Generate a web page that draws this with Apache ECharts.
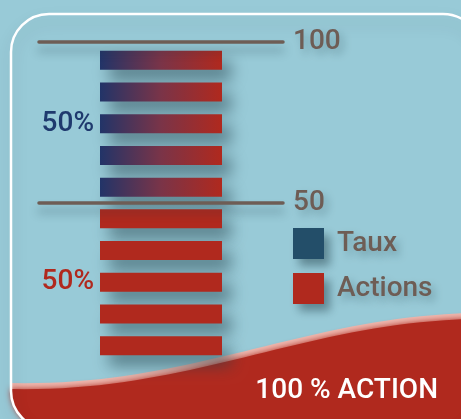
<!DOCTYPE html>
<html>
<head>
<meta charset="utf-8">
<script src="https://cdn.jsdelivr.net/npm/echarts@6/dist/echarts.min.js"></script>
<style>
  html, body { margin: 0; padding: 0; background: #98cad7; }
  #chart { width: 461px; height: 419px; }
</style>
</head>
<body>
<div id="chart"></div>
<script>
// data
const rows = ['90-100', '80-90', '70-80', '60-70', '50-60', '40-50', '30-40', '20-30', '10-20', '0-10'];
const tauxValues = [10, 10, 10, 10, 10, '-', '-', '-', '-', '-'];
const actionsValues = ['-', '-', '-', '-', '-', 10, 10, 10, 10, 10];
const refLevels = [100, 50];
const tauxShare = '50%';
const actionsShare = '50%';
const footerText = '100 % ACTION';

const FONT = 'Roboto';
const WEIGHT = 500;
const RED = '#b0291e';
const NAVY = '#223468';
const GREY = '#6e5d55';
const barShadow = {
  shadowBlur: 16,
  shadowColor: 'rgba(35,65,75,0.55)',
  shadowOffsetX: 9,
  shadowOffsetY: 11
};

// label on the middle bar of each block
function withLabel(values, idx, text, color) {
  return values.map((v, i) => {
    if (i !== idx) return v;
    return {
      value: v,
      label: {
        show: true, position: 'left', distance: 6,
        formatter: text, color: color,
        fontSize: 28, fontFamily: FONT, fontWeight: WEIGHT
      }
    };
  });
}

// decoration: bottom wave
function bez(a, b, c, d, t) {
  const u = 1 - t;
  return u * u * u * a + 3 * u * u * t * b + 3 * u * t * t * c + t * t * t * d;
}
function wavePoints(dy) {
  const pts = [];
  for (let i = 0; i <= 40; i++) {
    const t = i / 40;
    pts.push([bez(11, 190, 300, 470, t), bez(383, 387, 318, 313, t) + dy]);
  }
  pts.push([470, 429]);
  const cx = 49, cy = 391, r = 38;
  for (let i = 0; i <= 12; i++) {
    const a = Math.PI / 2 + (Math.PI / 2) * i / 12;
    pts.push([cx + r * Math.cos(a), cy + r * Math.sin(a)]);
  }
  return pts;
}

const chart = echarts.init(document.getElementById('chart'));

const option = {
  backgroundColor: '#98cad7',
  animation: false,
  graphic: [
    {
      type: 'polygon', z: -5,
      shape: { points: wavePoints(0) },
      style: { fill: '#eeb9b0' }
    },
    {
      type: 'polygon', z: -4,
      shape: { points: wavePoints(6) },
      style: { fill: RED, shadowBlur: 6, shadowColor: RED }
    },
    {
      type: 'rect', z: -3,
      shape: { x: 11, y: 14, width: 470, height: 415, r: 38 },
      style: {
        fill: 'none', stroke: '#ffffff', lineWidth: 2.5,
        shadowBlur: 16, shadowOffsetY: 8, shadowColor: 'rgba(0,40,60,0.2)'
      }
    },
    {
      type: 'text', z: 10, right: 23, top: 377,
      style: { text: footerText, fill: '#ffffff', fontSize: 28, fontFamily: FONT, fontWeight: WEIGHT }
    }
  ],
  legend: {
    orient: 'vertical',
    left: 293, top: 228,
    padding: 0,
    itemWidth: 31, itemHeight: 31, itemGap: 14,
    icon: 'rect',
    data: [
      { name: 'Taux', itemStyle: { color: '#234e69' } },
      { name: 'Actions', itemStyle: { color: RED } }
    ],
    itemStyle: { shadowBlur: 10, shadowColor: 'rgba(35,65,75,0.5)', shadowOffsetX: 6, shadowOffsetY: 7 },
    textStyle: {
      color: GREY, fontSize: 28, fontFamily: FONT, fontWeight: WEIGHT, padding: [0, 0, 0, 8],
      textShadowBlur: 8, textShadowColor: 'rgba(30,60,70,0.35)', textShadowOffsetX: 4, textShadowOffsetY: 5
    }
  },
  grid: [
    { left: 39, width: 244, top: 42, height: 322 },
    { left: 100, width: 122, top: 44.5, height: 317 }
  ],
  xAxis: [
    { gridIndex: 0, type: 'value', min: 0, max: 100, show: false },
    { gridIndex: 1, type: 'value', min: 0, max: 10, show: false }
  ],
  yAxis: [
    { gridIndex: 0, type: 'value', min: 0, max: 100, show: false },
    { gridIndex: 1, type: 'category', data: rows, inverse: true, show: false }
  ],
  series: [
    {
      name: 'Taux', type: 'bar', xAxisIndex: 1, yAxisIndex: 1,
      stack: 'col', barWidth: 19,
      data: withLabel(tauxValues, 2, tauxShare, '#1f3a6e'),
      itemStyle: Object.assign({
        color: new echarts.graphic.LinearGradient(0, 0, 1, 0, [
          { offset: 0, color: NAVY },
          { offset: 0.5, color: '#7a3448' },
          { offset: 1, color: RED }
        ])
      }, barShadow)
    },
    {
      name: 'Actions', type: 'bar', xAxisIndex: 1, yAxisIndex: 1,
      stack: 'col', barWidth: 19,
      data: withLabel(actionsValues, 7, actionsShare, RED),
      itemStyle: Object.assign({ color: RED }, barShadow)
    },
    {
      name: 'niveaux', type: 'scatter', xAxisIndex: 0, yAxisIndex: 0,
      data: [], z: 3,
      markLine: {
        silent: true, symbol: 'none', animation: false,
        lineStyle: {
          color: GREY, width: 3.5, type: 'solid', cap: 'round',
          shadowBlur: 10, shadowColor: 'rgba(30,60,70,0.4)', shadowOffsetY: 8
        },
        label: {
          position: 'end', distance: 10, formatter: '{c}',
          color: GREY, fontSize: 28, fontFamily: FONT, fontWeight: WEIGHT,
          textShadowBlur: 8, textShadowColor: 'rgba(30,60,70,0.35)', textShadowOffsetX: 4, textShadowOffsetY: 5
        },
        data: refLevels.map(v => ({ yAxis: v }))
      }
    }
  ]
};

chart.setOption(option);
</script>
</body>
</html>
